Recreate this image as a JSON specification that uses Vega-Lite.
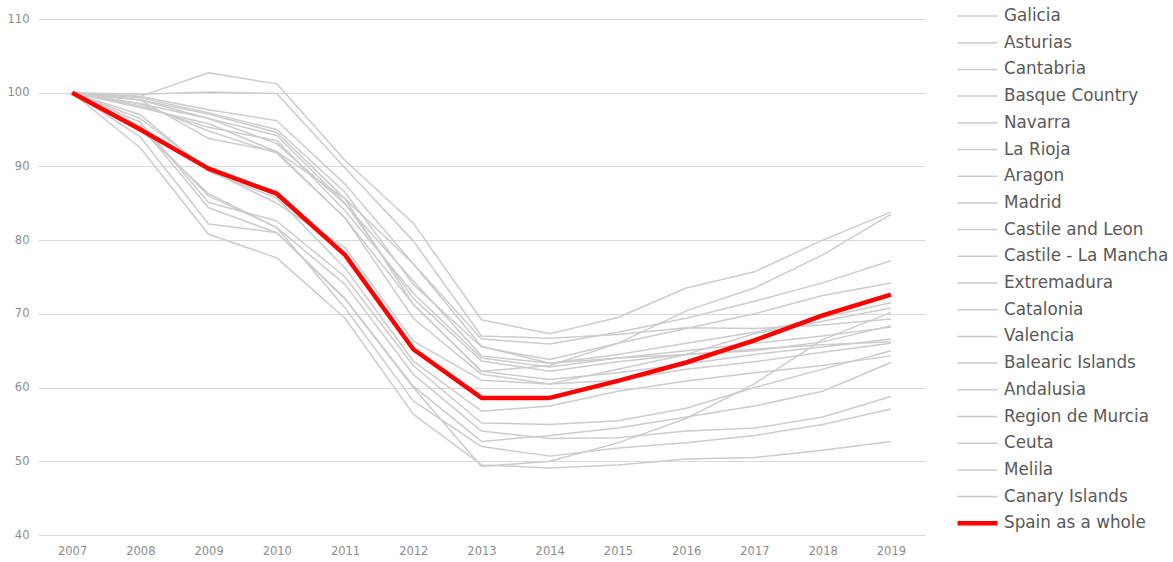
{
  "$schema": "https://vega.github.io/schema/vega-lite/v6.json",
  "autosize": {"type": "none"},
  "width": 887,
  "height": 516,
  "padding": {"left": 38, "top": 19, "right": 248, "bottom": 27},
  "background": "white",
  "config": {
    "view": {"stroke": null},
    "font": "DejaVu Sans",
    "axis": {"domain": false, "ticks": false, "labelColor": "#8c8c8c", "labelFontSize": 11.5, "labelFont": "DejaVu Sans", "title": null, "gridColor": "#d9d9d9", "gridWidth": 1.2}
  },
  "data": {"values": [
    {"r":"Galicia","y":2007,"v":100},{"r":"Galicia","y":2008,"v":98.5},{"r":"Galicia","y":2009,"v":96.5},{"r":"Galicia","y":2010,"v":93.1},{"r":"Galicia","y":2011,"v":84.9},{"r":"Galicia","y":2012,"v":74.5},{"r":"Galicia","y":2013,"v":64.3},{"r":"Galicia","y":2014,"v":63.3},{"r":"Galicia","y":2015,"v":64.5},{"r":"Galicia","y":2016,"v":66.0},{"r":"Galicia","y":2017,"v":67.5},{"r":"Galicia","y":2018,"v":69.5},{"r":"Galicia","y":2019,"v":71.5},
    {"r":"Asturias","y":2007,"v":100},{"r":"Asturias","y":2008,"v":98.0},{"r":"Asturias","y":2009,"v":95.8},{"r":"Asturias","y":2010,"v":92.0},{"r":"Asturias","y":2011,"v":83.0},{"r":"Asturias","y":2012,"v":71.3},{"r":"Asturias","y":2013,"v":62.2},{"r":"Asturias","y":2014,"v":61.1},{"r":"Asturias","y":2015,"v":62.0},{"r":"Asturias","y":2016,"v":63.2},{"r":"Asturias","y":2017,"v":64.5},{"r":"Asturias","y":2018,"v":65.5},{"r":"Asturias","y":2019,"v":66.6},
    {"r":"Cantabria","y":2007,"v":100},{"r":"Cantabria","y":2008,"v":99.0},{"r":"Cantabria","y":2009,"v":97.1},{"r":"Cantabria","y":2010,"v":94.6},{"r":"Cantabria","y":2011,"v":85.6},{"r":"Cantabria","y":2012,"v":76.8},{"r":"Cantabria","y":2013,"v":65.6},{"r":"Cantabria","y":2014,"v":63.3},{"r":"Cantabria","y":2015,"v":64.0},{"r":"Cantabria","y":2016,"v":64.5},{"r":"Cantabria","y":2017,"v":65.0},{"r":"Cantabria","y":2018,"v":66.2},{"r":"Cantabria","y":2019,"v":68.4},
    {"r":"Basque Country","y":2007,"v":100},{"r":"Basque Country","y":2008,"v":99.8},{"r":"Basque Country","y":2009,"v":100.1},{"r":"Basque Country","y":2010,"v":99.9},{"r":"Basque Country","y":2011,"v":89.8},{"r":"Basque Country","y":2012,"v":79.9},{"r":"Basque Country","y":2013,"v":67.0},{"r":"Basque Country","y":2014,"v":66.7},{"r":"Basque Country","y":2015,"v":67.2},{"r":"Basque Country","y":2016,"v":68.1},{"r":"Basque Country","y":2017,"v":68.0},{"r":"Basque Country","y":2018,"v":68.5},{"r":"Basque Country","y":2019,"v":69.3},
    {"r":"Navarra","y":2007,"v":100},{"r":"Navarra","y":2008,"v":99.5},{"r":"Navarra","y":2009,"v":97.7},{"r":"Navarra","y":2010,"v":96.2},{"r":"Navarra","y":2011,"v":87.6},{"r":"Navarra","y":2012,"v":76.8},{"r":"Navarra","y":2013,"v":66.6},{"r":"Navarra","y":2014,"v":65.9},{"r":"Navarra","y":2015,"v":67.5},{"r":"Navarra","y":2016,"v":69.4},{"r":"Navarra","y":2017,"v":71.7},{"r":"Navarra","y":2018,"v":74.2},{"r":"Navarra","y":2019,"v":77.2},
    {"r":"La Rioja","y":2007,"v":100},{"r":"La Rioja","y":2008,"v":99.0},{"r":"La Rioja","y":2009,"v":96.5},{"r":"La Rioja","y":2010,"v":94.2},{"r":"La Rioja","y":2011,"v":85.0},{"r":"La Rioja","y":2012,"v":72.1},{"r":"La Rioja","y":2013,"v":63.6},{"r":"La Rioja","y":2014,"v":62.2},{"r":"La Rioja","y":2015,"v":63.5},{"r":"La Rioja","y":2016,"v":64.5},{"r":"La Rioja","y":2017,"v":65.2},{"r":"La Rioja","y":2018,"v":65.8},{"r":"La Rioja","y":2019,"v":66.2},
    {"r":"Aragon","y":2007,"v":100},{"r":"Aragon","y":2008,"v":99.3},{"r":"Aragon","y":2009,"v":97.3},{"r":"Aragon","y":2010,"v":95.0},{"r":"Aragon","y":2011,"v":86.5},{"r":"Aragon","y":2012,"v":74.0},{"r":"Aragon","y":2013,"v":65.5},{"r":"Aragon","y":2014,"v":63.8},{"r":"Aragon","y":2015,"v":66.0},{"r":"Aragon","y":2016,"v":68.0},{"r":"Aragon","y":2017,"v":70.0},{"r":"Aragon","y":2018,"v":72.5},{"r":"Aragon","y":2019,"v":74.2},
    {"r":"Madrid","y":2007,"v":100},{"r":"Madrid","y":2008,"v":99.5},{"r":"Madrid","y":2009,"v":102.7},{"r":"Madrid","y":2010,"v":101.2},{"r":"Madrid","y":2011,"v":90.8},{"r":"Madrid","y":2012,"v":82.3},{"r":"Madrid","y":2013,"v":69.2},{"r":"Madrid","y":2014,"v":67.3},{"r":"Madrid","y":2015,"v":69.5},{"r":"Madrid","y":2016,"v":73.5},{"r":"Madrid","y":2017,"v":75.7},{"r":"Madrid","y":2018,"v":80.0},{"r":"Madrid","y":2019,"v":83.8},
    {"r":"Castile and Leon","y":2007,"v":100},{"r":"Castile and Leon","y":2008,"v":98.2},{"r":"Castile and Leon","y":2009,"v":95.3},{"r":"Castile and Leon","y":2010,"v":93.5},{"r":"Castile and Leon","y":2011,"v":84.0},{"r":"Castile and Leon","y":2012,"v":72.8},{"r":"Castile and Leon","y":2013,"v":64.0},{"r":"Castile and Leon","y":2014,"v":62.8},{"r":"Castile and Leon","y":2015,"v":64.0},{"r":"Castile and Leon","y":2016,"v":65.0},{"r":"Castile and Leon","y":2017,"v":66.0},{"r":"Castile and Leon","y":2018,"v":67.0},{"r":"Castile and Leon","y":2019,"v":68.2},
    {"r":"Castile - La Mancha","y":2007,"v":100},{"r":"Castile - La Mancha","y":2008,"v":95.0},{"r":"Castile - La Mancha","y":2009,"v":86.3},{"r":"Castile - La Mancha","y":2010,"v":81.7},{"r":"Castile - La Mancha","y":2011,"v":74.0},{"r":"Castile - La Mancha","y":2012,"v":61.8},{"r":"Castile - La Mancha","y":2013,"v":54.1},{"r":"Castile - La Mancha","y":2014,"v":53.1},{"r":"Castile - La Mancha","y":2015,"v":53.2},{"r":"Castile - La Mancha","y":2016,"v":54.1},{"r":"Castile - La Mancha","y":2017,"v":54.5},{"r":"Castile - La Mancha","y":2018,"v":56.0},{"r":"Castile - La Mancha","y":2019,"v":58.8},
    {"r":"Extremadura","y":2007,"v":100},{"r":"Extremadura","y":2008,"v":97.0},{"r":"Extremadura","y":2009,"v":89.3},{"r":"Extremadura","y":2010,"v":85.7},{"r":"Extremadura","y":2011,"v":76.2},{"r":"Extremadura","y":2012,"v":63.6},{"r":"Extremadura","y":2013,"v":56.8},{"r":"Extremadura","y":2014,"v":57.5},{"r":"Extremadura","y":2015,"v":59.5},{"r":"Extremadura","y":2016,"v":60.9},{"r":"Extremadura","y":2017,"v":62.0},{"r":"Extremadura","y":2018,"v":63.0},{"r":"Extremadura","y":2019,"v":64.3},
    {"r":"Catalonia","y":2007,"v":100},{"r":"Catalonia","y":2008,"v":98.5},{"r":"Catalonia","y":2009,"v":94.8},{"r":"Catalonia","y":2010,"v":91.8},{"r":"Catalonia","y":2011,"v":83.0},{"r":"Catalonia","y":2012,"v":69.4},{"r":"Catalonia","y":2013,"v":61.8},{"r":"Catalonia","y":2014,"v":60.5},{"r":"Catalonia","y":2015,"v":62.5},{"r":"Catalonia","y":2016,"v":64.5},{"r":"Catalonia","y":2017,"v":67.3},{"r":"Catalonia","y":2018,"v":69.0},{"r":"Catalonia","y":2019,"v":70.8},
    {"r":"Valencia","y":2007,"v":100},{"r":"Valencia","y":2008,"v":96.5},{"r":"Valencia","y":2009,"v":89.5},{"r":"Valencia","y":2010,"v":85.0},{"r":"Valencia","y":2011,"v":79.0},{"r":"Valencia","y":2012,"v":66.3},{"r":"Valencia","y":2013,"v":61.0},{"r":"Valencia","y":2014,"v":60.5},{"r":"Valencia","y":2015,"v":61.0},{"r":"Valencia","y":2016,"v":62.5},{"r":"Valencia","y":2017,"v":63.5},{"r":"Valencia","y":2018,"v":64.8},{"r":"Valencia","y":2019,"v":66.0},
    {"r":"Balearic Islands","y":2007,"v":100},{"r":"Balearic Islands","y":2008,"v":99.0},{"r":"Balearic Islands","y":2009,"v":93.8},{"r":"Balearic Islands","y":2010,"v":92.0},{"r":"Balearic Islands","y":2011,"v":85.6},{"r":"Balearic Islands","y":2012,"v":71.3},{"r":"Balearic Islands","y":2013,"v":62.2},{"r":"Balearic Islands","y":2014,"v":63.0},{"r":"Balearic Islands","y":2015,"v":66.0},{"r":"Balearic Islands","y":2016,"v":70.4},{"r":"Balearic Islands","y":2017,"v":73.5},{"r":"Balearic Islands","y":2018,"v":78.0},{"r":"Balearic Islands","y":2019,"v":83.5},
    {"r":"Andalusia","y":2007,"v":100},{"r":"Andalusia","y":2008,"v":95.5},{"r":"Andalusia","y":2009,"v":84.4},{"r":"Andalusia","y":2010,"v":81.0},{"r":"Andalusia","y":2011,"v":72.1},{"r":"Andalusia","y":2012,"v":60.2},{"r":"Andalusia","y":2013,"v":52.7},{"r":"Andalusia","y":2014,"v":53.5},{"r":"Andalusia","y":2015,"v":54.5},{"r":"Andalusia","y":2016,"v":56.0},{"r":"Andalusia","y":2017,"v":57.5},{"r":"Andalusia","y":2018,"v":59.5},{"r":"Andalusia","y":2019,"v":63.4},
    {"r":"Region de Murcia","y":2007,"v":100},{"r":"Region de Murcia","y":2008,"v":96.0},{"r":"Region de Murcia","y":2009,"v":85.1},{"r":"Region de Murcia","y":2010,"v":82.6},{"r":"Region de Murcia","y":2011,"v":75.0},{"r":"Region de Murcia","y":2012,"v":63.0},{"r":"Region de Murcia","y":2013,"v":55.2},{"r":"Region de Murcia","y":2014,"v":55.0},{"r":"Region de Murcia","y":2015,"v":55.5},{"r":"Region de Murcia","y":2016,"v":57.2},{"r":"Region de Murcia","y":2017,"v":60.0},{"r":"Region de Murcia","y":2018,"v":62.5},{"r":"Region de Murcia","y":2019,"v":65.0},
    {"r":"Ceuta","y":2007,"v":100},{"r":"Ceuta","y":2008,"v":94.0},{"r":"Ceuta","y":2009,"v":82.2},{"r":"Ceuta","y":2010,"v":81.0},{"r":"Ceuta","y":2011,"v":72.0},{"r":"Ceuta","y":2012,"v":60.0},{"r":"Ceuta","y":2013,"v":49.3},{"r":"Ceuta","y":2014,"v":50.0},{"r":"Ceuta","y":2015,"v":52.5},{"r":"Ceuta","y":2016,"v":55.8},{"r":"Ceuta","y":2017,"v":60.5},{"r":"Ceuta","y":2018,"v":66.5},{"r":"Ceuta","y":2019,"v":70.2},
    {"r":"Melila","y":2007,"v":100},{"r":"Melila","y":2008,"v":92.5},{"r":"Melila","y":2009,"v":80.8},{"r":"Melila","y":2010,"v":77.6},{"r":"Melila","y":2011,"v":69.4},{"r":"Melila","y":2012,"v":56.4},{"r":"Melila","y":2013,"v":49.5},{"r":"Melila","y":2014,"v":49.1},{"r":"Melila","y":2015,"v":49.5},{"r":"Melila","y":2016,"v":50.3},{"r":"Melila","y":2017,"v":50.5},{"r":"Melila","y":2018,"v":51.5},{"r":"Melila","y":2019,"v":52.7},
    {"r":"Canary Islands","y":2007,"v":100},{"r":"Canary Islands","y":2008,"v":95.5},{"r":"Canary Islands","y":2009,"v":86.0},{"r":"Canary Islands","y":2010,"v":81.7},{"r":"Canary Islands","y":2011,"v":70.8},{"r":"Canary Islands","y":2012,"v":58.2},{"r":"Canary Islands","y":2013,"v":52.0},{"r":"Canary Islands","y":2014,"v":50.7},{"r":"Canary Islands","y":2015,"v":51.8},{"r":"Canary Islands","y":2016,"v":52.5},{"r":"Canary Islands","y":2017,"v":53.5},{"r":"Canary Islands","y":2018,"v":55.0},{"r":"Canary Islands","y":2019,"v":57.1},
    {"r":"Spain as a whole","y":2007,"v":100},{"r":"Spain as a whole","y":2008,"v":95.0},{"r":"Spain as a whole","y":2009,"v":89.7},{"r":"Spain as a whole","y":2010,"v":86.3},{"r":"Spain as a whole","y":2011,"v":78.0},{"r":"Spain as a whole","y":2012,"v":65.2},{"r":"Spain as a whole","y":2013,"v":58.6},{"r":"Spain as a whole","y":2014,"v":58.6},{"r":"Spain as a whole","y":2015,"v":60.9},{"r":"Spain as a whole","y":2016,"v":63.4},{"r":"Spain as a whole","y":2017,"v":66.4},{"r":"Spain as a whole","y":2018,"v":69.8},{"r":"Spain as a whole","y":2019,"v":72.6}
  ]},
  "encoding": {
    "x": {"field": "y", "type": "ordinal", "scale": {"type": "point", "padding": 0.5}, "axis": {"labelAngle": 0, "labelPadding": 10, "grid": false}},
    "y": {"field": "v", "type": "quantitative", "scale": {"domain": [40, 110], "nice": false, "zero": false}, "axis": {"values": [40, 50, 60, 70, 80, 90, 100, 110], "labelPadding": 9}},
    "color": {"field": "r", "type": "ordinal", "scale": {
      "domain": ["Galicia","Asturias","Cantabria","Basque Country","Navarra","La Rioja","Aragon","Madrid","Castile and Leon","Castile - La Mancha","Extremadura","Catalonia","Valencia","Balearic Islands","Andalusia","Region de Murcia","Ceuta","Melila","Canary Islands","Spain as a whole"],
      "range": ["#cccccc","#cccccc","#cccccc","#cccccc","#cccccc","#cccccc","#cccccc","#cccccc","#cccccc","#cccccc","#cccccc","#cccccc","#cccccc","#cccccc","#cccccc","#cccccc","#cccccc","#cccccc","#cccccc","#ff0000"]},
      "legend": {"title": null, "orient": "none", "legendX": 917, "legendY": -16, "symbolType": "stroke", "symbolSize": 1600, "labelFontSize": 16.8, "labelColor": "#595959", "labelFont": "DejaVu Sans", "labelLimit": 400, "labelOffset": 4, "rowPadding": 0.7, "clipHeight": 26}},
    "strokeWidth": {"field": "r", "type": "ordinal", "scale": {
      "type": "ordinal",
      "domain": ["Galicia","Asturias","Cantabria","Basque Country","Navarra","La Rioja","Aragon","Madrid","Castile and Leon","Castile - La Mancha","Extremadura","Catalonia","Valencia","Balearic Islands","Andalusia","Region de Murcia","Ceuta","Melila","Canary Islands","Spain as a whole"],
      "range": [1.5,1.5,1.5,1.5,1.5,1.5,1.5,1.5,1.5,1.5,1.5,1.5,1.5,1.5,1.5,1.5,1.5,1.5,1.5,4.5]},
      "legend": {"title": null, "orient": "none", "legendX": 917, "legendY": -16, "symbolType": "stroke", "symbolSize": 1600, "labelFontSize": 16.8, "labelColor": "#595959", "labelFont": "DejaVu Sans", "labelLimit": 400, "labelOffset": 4, "rowPadding": 0.7, "clipHeight": 26}}
  },
  "layer": [
    {"transform": [{"filter": "datum.r != 'Spain as a whole'"}], "mark": {"type": "line", "strokeJoin": "round"}},
    {"transform": [{"filter": "datum.r == 'Spain as a whole'"}], "mark": {"type": "line", "strokeJoin": "round"}}
  ]
}
